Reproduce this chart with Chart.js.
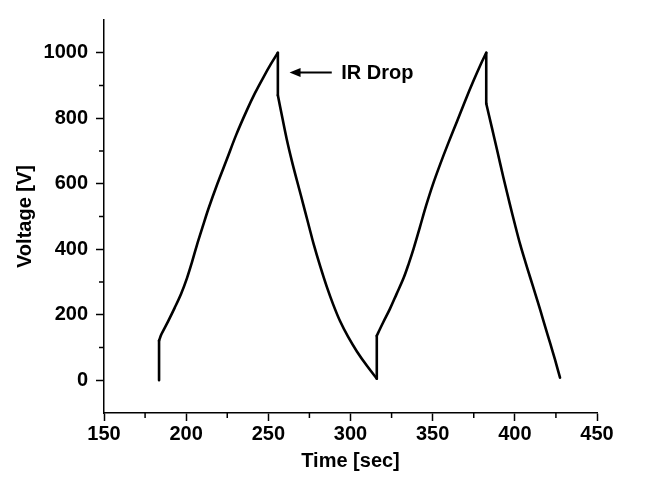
<!DOCTYPE html>
<html>
<head>
<meta charset="utf-8">
<script src="https://cdn.jsdelivr.net/npm/chart.js@4.4.1/dist/chart.umd.min.js"></script>
<style>
  body { margin: 0; background: #fff; }
  #wrap { width: 652px; height: 478px; }
</style>
</head>
<body>
<div id="wrap"><canvas id="myChart" width="652" height="478"></canvas></div>
<script>
// values
const timeSec = [
    183.5, 183.5, 185, 189, 193, 197, 200.5, 203.5, 206.5, 210, 213.5, 219, 224.7, 230.5, 236.9, 242, 247, 251.5, 255.8,
    255.8, 258.5, 261.2, 264.3, 267.4, 270, 272.4, 275, 277.5, 281.5, 285.6, 289.5, 293.7, 298.5, 303.9, 310, 316,
    316, 317.5, 320, 324, 328, 332.3, 335.5, 338.4, 342.2, 346, 350, 354.6, 359.5, 364.8, 370, 374.9, 379, 382.6,
    382.6, 386, 389.2, 393, 397, 400, 403.3, 406.5, 409.4, 412.5, 415.5, 418.5, 421.5, 424.5, 427.5
];
const voltage = [
    0, 121, 141, 180, 221, 265, 312, 360, 412, 468, 523, 600, 674, 750, 824, 878, 925, 965, 1000,
    870, 802, 736, 670, 610, 561, 515, 465, 417, 349, 285, 231, 180, 133, 88, 44, 5,
    136, 152, 178, 218, 263, 312, 357, 402, 467, 533, 596, 660, 724, 790, 856, 915, 962, 1000,
    845, 772, 703, 620, 537, 477, 414, 360, 313, 263, 214, 163, 113, 62, 8
];

const xMajorTicks = [150, 200, 250, 300, 350, 400, 450];
const xMinorTicks = [175, 225, 275, 325, 375, 425];
const yMajorTicks = [0, 200, 400, 600, 800, 1000];
const yMinorTicks = [100, 300, 500, 700, 900];

// arrow + label: [time, voltage]
const arrowTip = [262.9, 940];
const arrowTail = [288.6, 940];
const labelPos = [294.3, 940];
const labelText = 'IR Drop';

const fontFam = '"Liberation Sans", Arial, sans-serif';

const points = timeSec.map((t, i) => ({x: t, y: voltage[i]}));

// split: smooth branches between the vertical jumps, jumps drawn straight
const branches = [], jumps = [];
let run = [points[0]];
for (let i = 1; i < points.length; i++) {
    if (points[i].x === points[i - 1].x) {
        jumps.push(points[i - 1], points[i], {x: points[i].x, y: null});
        if (run.length > 1) branches.push(run);
        run = [points[i]];
    } else {
        run.push(points[i]);
    }
}
if (run.length > 1) branches.push(run);

const lineStyle = {
    borderColor: '#000',
    borderWidth: 2.6,
    pointRadius: 0,
    fill: false,
    borderCapStyle: 'round',
    borderJoinStyle: 'round'
};
const datasets = branches.map(b => Object.assign({data: b, tension: 0.35}, lineStyle));
datasets.push(Object.assign({data: jumps, tension: 0, spanGaps: false}, lineStyle));

const extras = {
    id: 'extras',
    afterDraw(chart) {
        const ctx = chart.ctx;
        const x = chart.scales.x, y = chart.scales.y;
        ctx.save();
        ctx.strokeStyle = '#000';
        ctx.lineWidth = 1.5;
        ctx.beginPath();
        xMinorTicks.forEach(v => {
            const px = x.getPixelForValue(v);
            ctx.moveTo(px, x.top);
            ctx.lineTo(px, x.top + 5);
        });
        yMinorTicks.forEach(v => {
            const py = y.getPixelForValue(v);
            ctx.moveTo(y.right, py);
            ctx.lineTo(y.right - 5, py);
        });
        ctx.stroke();

        // arrow
        const tx = x.getPixelForValue(arrowTip[0]), ty = y.getPixelForValue(arrowTip[1]);
        const ex = x.getPixelForValue(arrowTail[0]);
        ctx.lineWidth = 2;
        ctx.beginPath();
        ctx.moveTo(tx + 8, ty);
        ctx.lineTo(ex, ty);
        ctx.stroke();
        ctx.fillStyle = '#000';
        ctx.beginPath();
        ctx.moveTo(tx, ty);
        ctx.lineTo(tx + 11, ty - 4.5);
        ctx.lineTo(tx + 11, ty + 4.5);
        ctx.closePath();
        ctx.fill();

        ctx.font = 'bold 20px ' + fontFam;
        ctx.textAlign = 'left';
        ctx.textBaseline = 'middle';
        ctx.fillText(labelText, x.getPixelForValue(labelPos[0]), y.getPixelForValue(labelPos[1]) + 1);
        ctx.restore();
    }
};

let ctx = document.getElementById('myChart').getContext('2d');
let myChart = new Chart(ctx, {
    type: 'line',
    data: {datasets: datasets},
    options: {
        responsive: false,
        animation: false,
        layout: {
            padding: {top: 14, right: 55, left: 0, bottom: 0}
        },
        plugins: {
            legend: {display: false},
            tooltip: {enabled: false}
        },
        scales: {
            x: {
                type: 'linear',
                min: 150,
                max: 450,
                afterBuildTicks: s => { s.ticks = xMajorTicks.map(v => ({value: v})); },
                afterFit: s => { s.height = 65; },
                grid: {drawOnChartArea: false, drawTicks: true, tickLength: 8, tickColor: '#000', tickWidth: 1.5},
                border: {color: '#000', width: 1.5},
                ticks: {
                    color: '#000', padding: 1, maxRotation: 0,
                    font: {family: fontFam, size: 20, weight: 'bold'},
                    callback: v => String(v)
                },
                title: {
                    display: true,
                    text: 'Time [sec]',
                    color: '#000',
                    padding: {top: 0, bottom: 5},
                    font: {family: fontFam, size: 20, weight: 'bold'}
                }
            },
            y: {
                min: -100,
                max: 1100,
                afterBuildTicks: s => { s.ticks = yMajorTicks.map(v => ({value: v})); },
                afterFit: s => { s.width = 104; },
                grid: {drawOnChartArea: false, drawTicks: true, tickLength: 8, tickColor: '#000', tickWidth: 1.5},
                border: {color: '#000', width: 1.5},
                ticks: {
                    color: '#000', padding: 8,
                    font: {family: fontFam, size: 20, weight: 'bold'},
                    callback: v => String(v)
                },
                title: {
                    display: true,
                    text: 'Voltage [V]',
                    color: '#000',
                    padding: {top: 13, bottom: 0},
                    font: {family: fontFam, size: 20, weight: 'bold'}
                }
            }
        }
    },
    plugins: [extras]
});
</script>
</body>
</html>
